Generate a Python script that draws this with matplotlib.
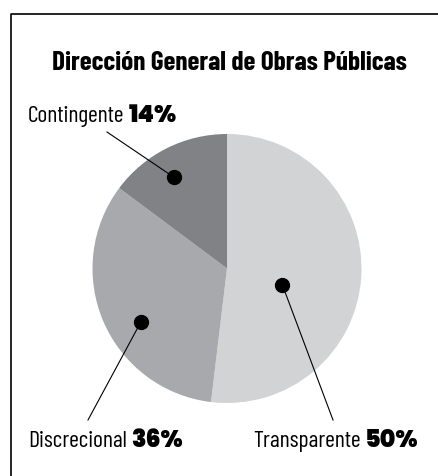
import matplotlib
matplotlib.use("Agg")
import numpy as np
import matplotlib.pyplot as plt

# datos
categorias = ["Transparente", "Discrecional", "Contingente"]
porcentajes = [50, 36, 14]          # texto de las etiquetas
tamanos = [51.9, 33.3, 14.8]        # tamano de las porciones tal como se dibujan
colores = ["#d1d3d4", "#a7a9ac", "#808285"]
titulo = "Dirección General de Obras Públicas"

# layout (coordenadas en pixeles, y hacia arriba)
centro = (227, 207.5)
radio = 134.5
puntos = [(282.3, 191.3), (141, 154.3), (174, 298.7)]
finales = [(333, 56), (88, 56), (107, 344)]
etiquetas_xy = [(253, 28.7), (28, 28.7), (28, 354.5)]

fuente_nombre = ["Barlow Condensed", "DejaVu Sans"]
fuente_pct = ["Poppins", "Lato", "DejaVu Sans"]

fig = plt.figure(figsize=(4.39, 4.76), dpi=100)
ax = fig.add_axes([0, 0, 1, 1])

ax.pie(tamanos, colors=colores, startangle=90, counterclock=False,
       center=centro, radius=radio, frame=True,
       wedgeprops=dict(linewidth=0))
ax.set_xlim(0, 439)
ax.set_ylim(0, 476)
ax.set_aspect("equal")
ax.axis("off")

# marco
ax.plot([11, 11, 460], [-20, 462, 462], color="black", lw=1.2, clip_on=False)

ax.text(229, 406, titulo, ha="center", va="baseline", fontsize=19.6,
        fontweight="bold", family=fuente_nombre)

nombres = []
for i in range(len(categorias)):
    px, py = puntos[i]
    fx, fy = finales[i]
    ax.plot([px, fx], [py, fy], color="black", lw=0.8)
    ax.plot(px, py, "o", color="black", ms=10)
    lx, ly = etiquetas_xy[i]
    t = ax.text(lx, ly, categorias[i], ha="left", va="baseline", fontsize=17,
                family=fuente_nombre)
    nombres.append(t)

fig.canvas.draw()
r = fig.canvas.get_renderer()
for i, t in enumerate(nombres):
    bb = t.get_window_extent(renderer=r)
    x1 = ax.transData.inverted().transform((bb.x1, bb.y0))[0]
    ax.text(x1 + 4, etiquetas_xy[i][1], f"{porcentajes[i]}%", ha="left",
            va="baseline", fontsize=17, fontweight="black",
            family=fuente_pct)

fig.savefig("out.png", dpi=100)
